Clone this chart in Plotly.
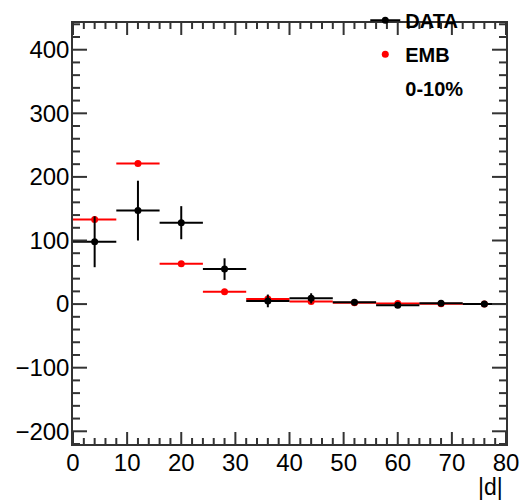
import plotly.graph_objects as go

bin_centers = [4, 12, 20, 28, 36, 44, 52, 60, 68, 76]
bin_half_width = [4] * 10
data_vals = [98, 147, 128, 55, 5, 9, 3, -2, 1.5, 0]
data_errs = [40, 47, 26, 17, 10, 8, 5, 3, 2, 1]
emb_vals = [133, 221, 63.5, 19.5, 8, 4, 2, 1, 0.5, 0]
emb_errs = [0] * 10

X_RANGE = [0, 80]
Y_RANGE = [-220, 442]
x_major = list(range(0, 81, 10))
x_minor = [v for v in range(0, 81, 2) if v % 10]
y_major = list(range(-200, 401, 100))
y_minor = [v for v in range(-220, 441, 20) if v % 100]

FONT = "Liberation Sans, Arial, sans-serif"
W, H = 532, 503
ML, MR, MT, MB = 73, 26, 23, 59

fig = go.Figure()
fig.add_trace(go.Scatter(
    x=bin_centers, y=emb_vals, mode="markers", name="EMB",
    marker=dict(color="red", size=7),
    error_x=dict(type="data", array=bin_half_width, color="red", thickness=2, width=0),
    error_y=dict(type="data", array=emb_errs, color="red", thickness=2, width=0),
    showlegend=False,
))
fig.add_trace(go.Scatter(
    x=bin_centers, y=data_vals, mode="markers", name="DATA",
    marker=dict(color="black", size=7),
    error_x=dict(type="data", array=bin_half_width, color="black", thickness=2, width=0),
    error_y=dict(type="data", array=data_errs, color="black", thickness=2, width=0),
    showlegend=False,
))
# legend-only entries
fig.add_trace(go.Scatter(x=[None], y=[None], mode="lines+markers", name="DATA",
                         line=dict(color="black", width=2), marker=dict(color="black", size=7),
                         legendgroup="a"))
fig.add_trace(go.Scatter(x=[None], y=[None], mode="markers", name="EMB",
                         marker=dict(color="red", size=7), legendgroup="b"))
fig.add_trace(go.Scatter(x=[None], y=[None], mode="none", name="0-10%", legendgroup="c"))

fig.update_layout(
    xaxis=dict(range=X_RANGE, tickvals=x_major, ticks="", showgrid=False, zeroline=False,
               showline=True, linecolor="#333", linewidth=1.5, mirror=True,
               ticklabelstandoff=-4,
               tickfont=dict(family=FONT, size=24, color="black")),
    yaxis=dict(range=Y_RANGE, tickvals=y_major, ticks="", showgrid=False, zeroline=False,
               showline=True, linecolor="#333", linewidth=1.5, mirror=True,
               ticklabelstandoff=-3,
               tickfont=dict(family=FONT, size=24, color="black")),
)

# inward ROOT-style ticks on all four sides
TICK = dict(color="#333", width=2)
shapes = []
for vals, ln in ((x_major, 12), (x_minor, 6)):
    for v in vals:
        for anchor, sgn in ((Y_RANGE[0], 1), (Y_RANGE[1], -1)):
            shapes.append(dict(type="line", xref="x", yref="y", x0=v, x1=v,
                               ysizemode="pixel", yanchor=anchor, y0=0, y1=sgn * ln,
                               line=TICK, layer="above"))
for vals, ln in ((y_major, 14), (y_minor, 7)):
    for v in vals:
        for anchor, sgn in ((X_RANGE[0], 1), (X_RANGE[1], -1)):
            shapes.append(dict(type="line", xref="x", yref="y", y0=v, y1=v,
                               xsizemode="pixel", xanchor=anchor, x0=0, x1=sgn * ln,
                               line=TICK, layer="above"))
fig.update_layout(shapes=shapes)

fig.add_annotation(text="|d|", x=1, xref="paper", y=-0.066, yref="paper",
                   xanchor="right", yanchor="top", showarrow=False, xshift=-1,
                   font=dict(family=FONT, size=23, color="black"))

fig.update_layout(
    width=W, height=H,
    margin=dict(l=ML, r=MR, t=MT, b=MB, autoexpand=False),
    paper_bgcolor="white", plot_bgcolor="white",
    legend=dict(x=0.675, y=1.053, xanchor="left", yanchor="top",
                bgcolor="rgba(0,0,0,0)", tracegroupgap=5,
                font=dict(family=FONT, size=20, color="black", weight="bold")),
)
fig.write_html("out.html")
